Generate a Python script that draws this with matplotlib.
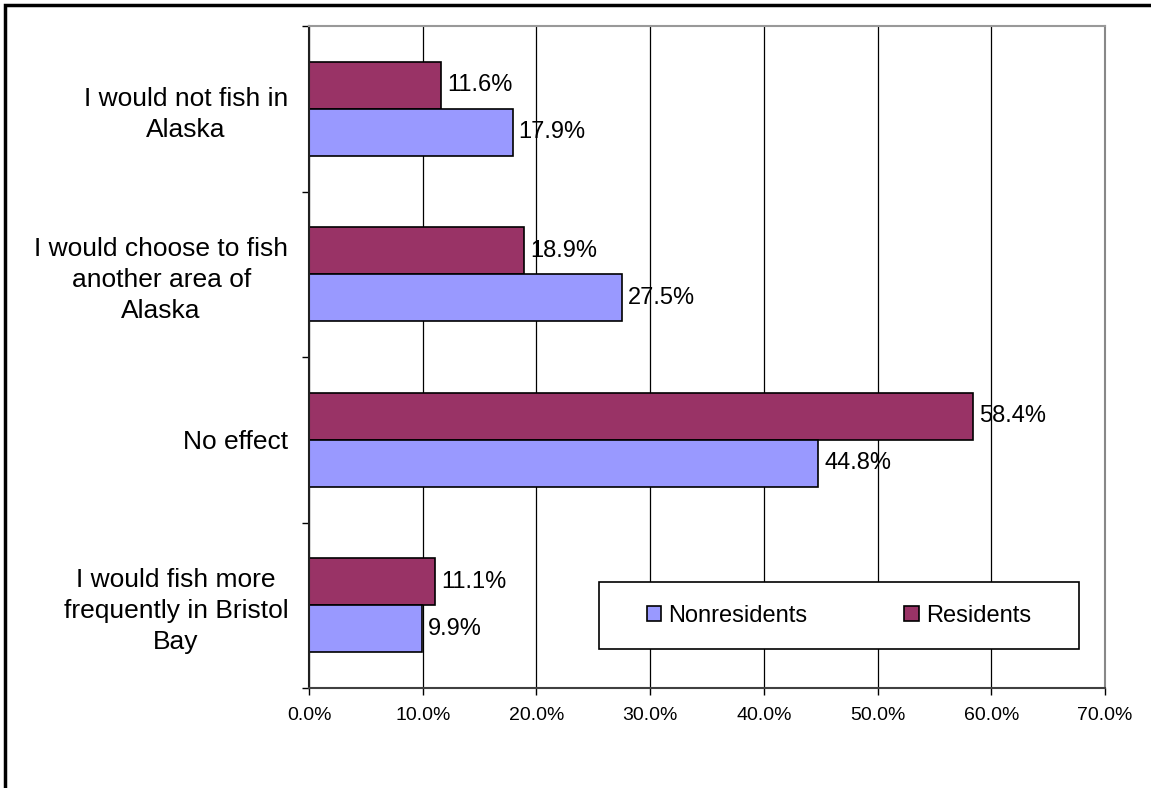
import matplotlib
matplotlib.use("Agg")
import matplotlib.pyplot as plt
from matplotlib.patches import Rectangle
from matplotlib.ticker import FuncFormatter, FixedLocator

plt.rcParams['font.family'] = ['Liberation Sans', 'DejaVu Sans']

# categories from top to bottom
categories = [
    "I would not fish in\nAlaska",
    "I would choose to fish\nanother area of\nAlaska",
    "No effect",
    "I would fish more\nfrequently in Bristol\nBay",
]
residents = [11.6, 18.9, 58.4, 11.1]
nonresidents = [17.9, 27.5, 44.8, 9.9]
xticks = [0, 10, 20, 30, 40, 50, 60, 70]

res_color = "#993366"
non_color = "#9999FF"

fig = plt.figure(figsize=(11.51, 7.88), dpi=100)
ax = fig.add_axes([309 / 1151, 1 - 688 / 788, (1105 - 309) / 1151, (688 - 26) / 788])

n = len(categories)
ypos = [n - 1 - i for i in range(n)]
h = 0.284

ax.barh([y + h / 2 for y in ypos], residents, height=h, color=res_color,
        edgecolor="black", linewidth=1.2, label="Residents", zorder=3)
ax.barh([y - h / 2 for y in ypos], nonresidents, height=h, color=non_color,
        edgecolor="black", linewidth=1.2, label="Nonresidents", zorder=3)

for y, r, nr in zip(ypos, residents, nonresidents):
    ax.annotate(f"{r:.1f}%", (r, y + h / 2), xytext=(6, 0), textcoords="offset pixels",
                va="center", ha="left", fontsize=17, zorder=4)
    ax.annotate(f"{nr:.1f}%", (nr, y - h / 2), xytext=(6, 0), textcoords="offset pixels",
                va="center", ha="left", fontsize=17, zorder=4)

ax.set_xlim(0, 70)
ax.set_ylim(-0.5, n - 0.5)
ax.set_xticks(xticks)
ax.xaxis.set_major_formatter(FuncFormatter(lambda v, p: f"{v:.1f}%"))
ax.tick_params(axis="x", direction="out", length=5, width=1, labelsize=14, pad=9, colors="black")
ax.grid(axis="x", color="black", linewidth=0.9, zorder=0)

# category labels at centers, ticks at boundaries
ax.set_yticks(ypos)
ax.set_yticklabels(categories, fontsize=19, multialignment="center", linespacing=1.37)
ax.tick_params(axis="y", which="major", length=0, pad=15)
ax.yaxis.set_minor_locator(FixedLocator([i - 0.5 for i in range(n + 1)]))
ax.tick_params(axis="y", which="minor", direction="out", length=5, width=1)

ax.spines["left"].set_color("#202020")
ax.spines["bottom"].set_color("#404040")
ax.spines["top"].set_color("#999999")
ax.spines["right"].set_color("#888888")
for s in ax.spines.values():
    s.set_linewidth(1.5)
    s.set_zorder(5)

# legend box
lx0, ly0, lx1, ly1 = 599, 582, 1079, 649
fig.patches.append(Rectangle((lx0 / 1151, 1 - ly1 / 788), (lx1 - lx0) / 1151, (ly1 - ly0) / 788,
                             transform=fig.transFigure, facecolor="white", edgecolor="black",
                             linewidth=1.2, zorder=6))
handles, labels = ax.get_legend_handles_labels()
leg = fig.legend(handles[::-1], labels[::-1], loc="center",
                 bbox_to_anchor=((lx0 + lx1) / 2 / 1151, 1 - (ly0 + ly1) / 2 / 788),
                 ncol=2, frameon=False, fontsize=17, handlelength=0.6, handleheight=0.6,
                 handletextpad=0.3, columnspacing=4.1)
leg.set_zorder(7)

# outer border
fig.patches.append(Rectangle((5 / 1151, -0.1), 1.2, 1.1 - 5 / 788, transform=fig.transFigure,
                             facecolor="none", edgecolor="black", linewidth=2.5))

fig.savefig("out.png", dpi=100)
